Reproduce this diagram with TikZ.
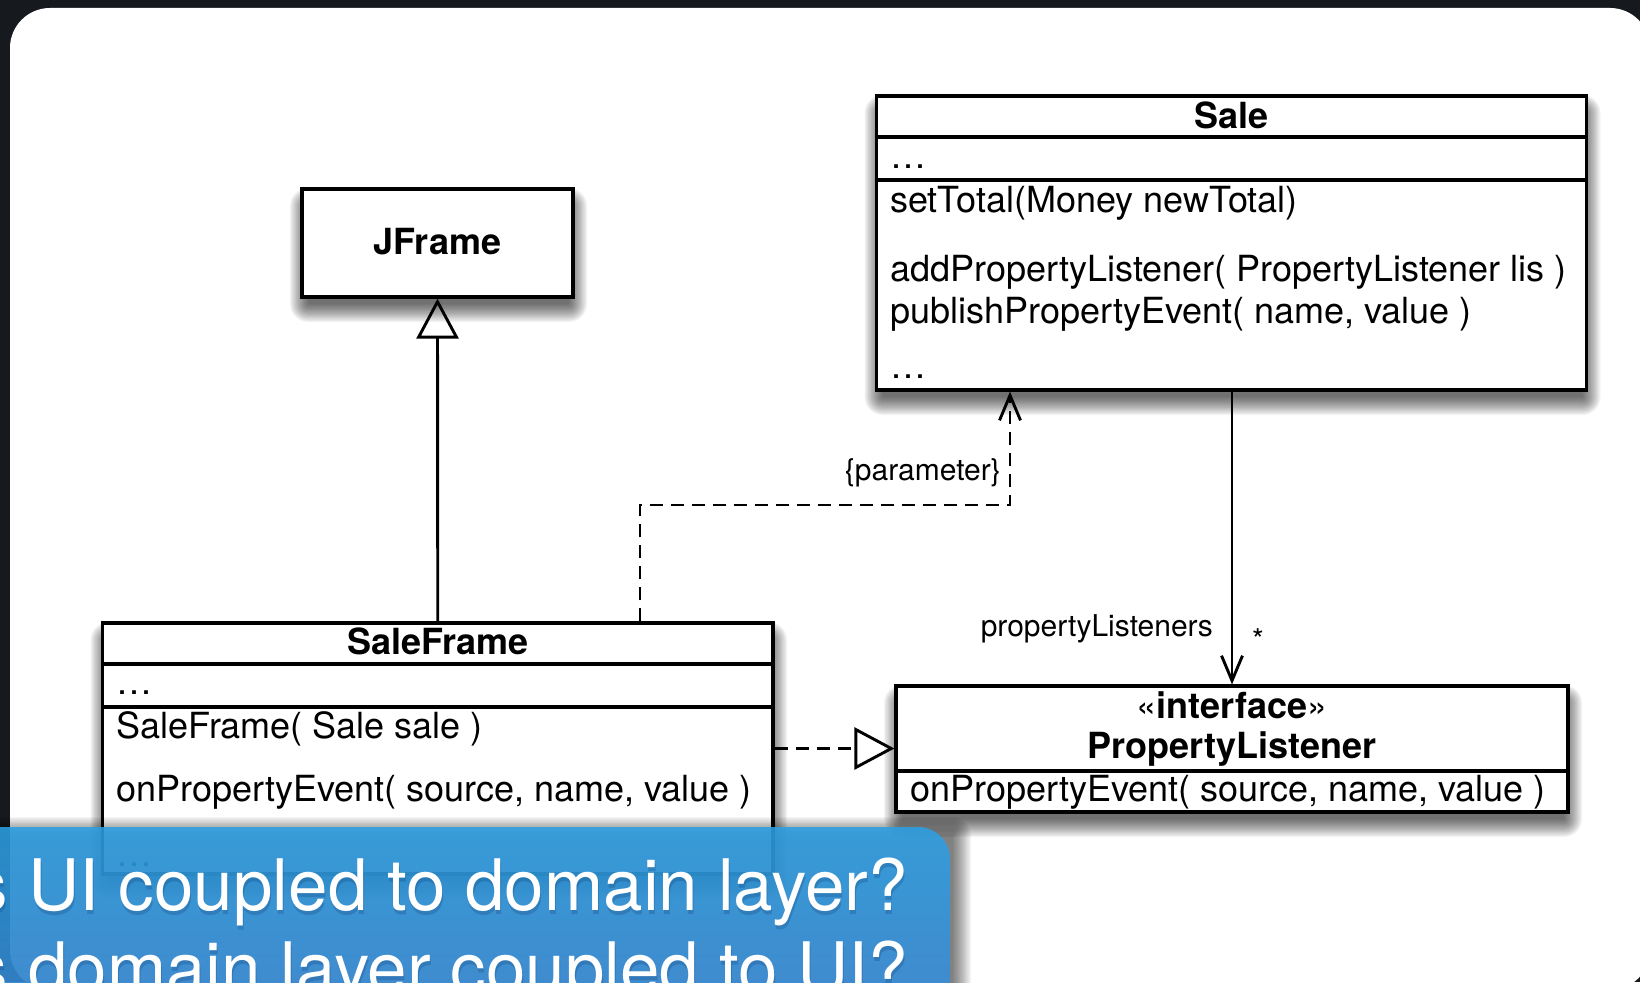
\documentclass[tikz,border=0pt]{standalone}
\usepackage{fontspec}
\setmainfont{TeX Gyre Heros}
\usetikzlibrary{arrows.meta,fit}

\definecolor{bgdark}{RGB}{22,26,30}
\definecolor{bluetop}{RGB}{44,160,227}
\definecolor{bluebot}{RGB}{58,134,214}
\definecolor{blueshade}{RGB}{10,50,105}

% soft shadow: #1 NW coordinate, #2 SE coordinate, #3 x offset, #4 y offset (pt, canvas), #5 opacity per step
\newcommand{\softshadow}[5]{%
  \foreach \i in {0,...,15}{%
    \pgfmathsetmacro{\ax}{#3+5-1.2*\i}%
    \pgfmathsetmacro{\ay}{#4-5+1.2*\i}%
    \pgfmathsetmacro{\bx}{#3-5+1.2*\i}%
    \pgfmathsetmacro{\by}{#4+5-1.2*\i}%
    \pgfmathsetmacro{\rr}{max(1,1.2*\i)}%
    \fill[black, fill opacity=#5, rounded corners=\rr pt]
      ([xshift=\ax pt, yshift=\ay pt]#1) rectangle ([xshift=\bx pt, yshift=\by pt]#2);
  }}

\tikzset{
  umlbox/.style={draw=black, line width=3.2pt, fill=white, inner sep=0pt},
  sepline/.style={line width=3.2pt},
  ctext/.style={font=\fontsize{36}{40}\selectfont, anchor=base west, inner sep=0pt},
  ttext/.style={font=\fontsize{36}{40}\selectfont\bfseries, inner sep=0pt},
  lbl/.style={font=\fontsize{30}{34}\selectfont, inner sep=0pt},
  conn/.style={line width=2.9pt},
  depline/.style={conn, dash pattern=on 13pt off 8pt},
  gentip/.style={-{Triangle[open, length=40pt, width=42pt, line width=2.9pt]}},
  opentip/.style={-{Straight Barb[length=25pt, width=21pt, line width=2.9pt]}},
  bluetext/.style={font=\fontsize{71}{80}\selectfont, inner sep=0pt, text=white},
}

\begin{document}
\begin{tikzpicture}[x=1pt,y=-1pt]
\useasboundingbox (0,0) rectangle (1640,982);
\fill[bgdark] (0,0) rectangle (1640,982);
\clip (0,0) rectangle (1640,982);
\fill[white, rounded corners=40pt] (10,8) rectangle (1650,990);

% ---------- box corners ----------
\coordinate (saleNW) at (876.5,96);   \coordinate (saleSE) at (1586.5,390);
\coordinate (jfNW) at (302,189);      \coordinate (jfSE) at (573,297);
\coordinate (sfNW) at (102.5,623);    \coordinate (sfSE) at (773,874);
\coordinate (plNW) at (896,686);      \coordinate (plSE) at (1568,812);
\coordinate (blueNW) at (-60,827);    \coordinate (blueSE) at (950,1040);

% ---------- soft shadows ----------
\softshadow{saleNW}{saleSE}{1}{-12}{0.046}
\softshadow{jfNW}{jfSE}{1}{-12}{0.046}
\softshadow{sfNW}{sfSE}{1}{-12}{0.046}
\softshadow{plNW}{plSE}{1}{-12}{0.046}

% ---------- Sale ----------
\node[umlbox, fit=(saleNW)(saleSE)] (sale) {};
\coordinate (saleS1) at (0,137);
\coordinate (saleS2) at (0,180);
\draw[sepline] (sale.west |- saleS1) -- (sale.east |- saleS1);
\draw[sepline] (sale.west |- saleS2) -- (sale.east |- saleS2);
\node[ttext] (saleT) at (1231.5,115) {Sale};
\node[ctext] (saleA) at (890,168) {\dots};
\node[ctext] (saleO1) at (890,212) {setTotal(Money newTotal)};
\node[ctext] (saleO2) at (890,281) {addPropertyListener( PropertyListener lis )};
\node[ctext] (saleO3) at (890,323) {publishPropertyEvent( name, value )};
\node[ctext] (saleO4) at (890,378) {\dots};

% ---------- JFrame ----------
\node[umlbox, fit=(jfNW)(jfSE)] (jframe) {};
\node[ttext] (jframeT) at (437.5,242) {JFrame};

% ---------- SaleFrame ----------
\node[umlbox, fit=(sfNW)(sfSE)] (saleframe) {};
\coordinate (sfS1) at (0,664);
\coordinate (sfS2) at (0,707);
\draw[sepline] (saleframe.west |- sfS1) -- (saleframe.east |- sfS1);
\draw[sepline] (saleframe.west |- sfS2) -- (saleframe.east |- sfS2);
\node[ttext] (sfT) at (437.75,641) {SaleFrame};
\node[ctext] (sfA) at (116,694) {\dots};
\node[ctext] (sfO1) at (116,738) {SaleFrame( Sale sale )};
\node[ctext] (sfO2) at (116,801) {onPropertyEvent( source, name, value )};
\node[ctext] (sfO3) at (116,866) {\dots};

% ---------- PropertyListener ----------
\node[umlbox, fit=(plNW)(plSE)] (pl) {};
\coordinate (plS1) at (0,771);
\draw[sepline] (pl.west |- plS1) -- (pl.east |- plS1);
\node[ttext] (plSt) at (1232,705) {{\mdseries «}interface{\mdseries »}};
\node[ttext] (plT) at (1232,749) {PropertyListener};
\node[ctext] (plO1) at (910,801) {onPropertyEvent( source, name, value )};

% ---------- connectors ----------
\draw[conn, gentip] (saleframe.north) -- (jframe.south);

\coordinate (d1) at (640,505);
\coordinate (d2) at (1010,505);
\draw[depline, opentip] (d1 |- saleframe.north) -- (d1) -- (d2) -- (d2 |- sale.south);
\node[lbl, anchor=east] (parLbl) at (1001,473) {\{parameter\}};

\coordinate (a1) at (1232,0);
\draw[conn, opentip] (a1 |- sale.south) -- (a1 |- pl.north);
\node[lbl, anchor=east] (assocLbl) at (1213,629) {propertyListeners};
\node[lbl] (multLbl) at (1258,640) {*};

\coordinate (r1) at (0,748.5);
\draw[depline, gentip] (saleframe.east |- r1) -- (pl.west |- r1);

% ---------- blue overlay ----------
\softshadow{blueNW}{blueSE}{8}{-3}{0.04}
\shade[top color=bluetop, bottom color=bluebot, fill opacity=0.88, rounded corners=32pt]
  (blueNW) rectangle (blueSE);
\node[bluetext, anchor=base east, text=blueshade, opacity=0.22] (q1s) at (909,914) {Is UI coupled to domain layer?};
\node[bluetext, anchor=base east] (q1) at (908,910) {Is UI coupled to domain layer?};
\node[bluetext, anchor=base east, text=blueshade, opacity=0.22] (q2s) at (909,997) {Is domain layer coupled to UI?};
\node[bluetext, anchor=base east] (q2) at (908,993) {Is domain layer coupled to UI?};
\end{tikzpicture}
\end{document}
